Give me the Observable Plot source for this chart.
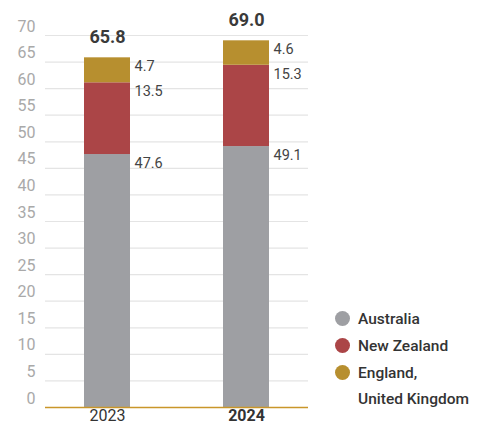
<!DOCTYPE html>
<html>
<head>
<meta charset="utf-8">
<script src="https://cdn.jsdelivr.net/npm/d3@7"></script>
<script src="https://cdn.jsdelivr.net/npm/@observablehq/plot@0.6"></script>
<style>
  html, body { margin: 0; padding: 0; background: #fff; }
  body { width: 480px; height: 424px; position: relative; overflow: hidden; font-family: Roboto, "Noto Sans", sans-serif; }
  #unit { position: absolute; left: 0; top: -14px; font-size: 15px; color: #444; white-space: nowrap; }
  #chart { position: absolute; left: 0; top: 0; }
  #legend { position: absolute; left: 335px; top: 305px; font-size: 15.5px; font-weight: 500; color: #333; }
  .row { display: flex; align-items: center; height: 27px; }
  .dot { width: 15px; height: 15px; border-radius: 50%; margin-right: 8px; flex: none; }
  .cont { padding-left: 23px; height: 27px; line-height: 27px; }
</style>
</head>
<body>
<div id="unit">(billion, $)</div>
<div id="chart"></div>
<div id="legend"></div>
<script>
const years = ["2023", "2024"];
const countries = ["Australia", "New Zealand", "England, United Kingdom"];
const australia = [47.6, 49.1];
const newZealand = [13.5, 15.3];
const england = [4.7, 4.6];
const totals = [65.8, 69.0];
const yTicks = [0, 5, 10, 15, 20, 25, 30, 35, 40, 45, 50, 55, 60, 65, 70];
const colors = ["#9e9fa3", "#ab4547", "#b78f2f"];

const series = [australia, newZealand, england];
const data = [];
years.forEach((yr, i) => {
  countries.forEach((c, j) => data.push({ year: yr, country: c, value: series[j][i] }));
});
const totalData = years.map((yr, i) => ({ year: yr, total: totals[i] }));

const bandwidth = 46;

const chart = Plot.plot({
  width: 480,
  height: 424,
  marginTop: 35,
  marginBottom: 17,
  marginLeft: 45,
  marginRight: 172,
  style: { fontFamily: "Roboto, 'Noto Sans', sans-serif", background: "#fff" },
  x: { domain: years, paddingInner: 0.67, paddingOuter: 0.28, label: null },
  y: { domain: [0, 70], label: null },
  color: { domain: countries, range: colors },
  marks: [
    Plot.gridY(yTicks, { stroke: "#e4e4e4", strokeOpacity: 1, strokeWidth: 1.2 }),
    Plot.axisY(yTicks, { tickSize: 0, tickPadding: 10, fontSize: 16, fill: "#a9a9a9", dy: -9, label: null }),
    Plot.barY(data, { x: "year", y: "value", fill: "country", order: null }),
    Plot.ruleY([0], { stroke: "#c9962a", strokeWidth: 1.5 }),
    Plot.text(data, Plot.stackY2({ x: "year", y: "value", z: "country", order: null, text: d => d.value.toFixed(1), textAnchor: "start", dx: bandwidth / 2 + 4, dy: 9, fontSize: 14.5, fill: "#444" })),
    Plot.text(totalData, { x: "year", y: "total", text: d => d.total.toFixed(1), dy: -21, fontSize: 18, fontWeight: "bold", fill: "#3a3a3a" }),
    Plot.axisX({ ticks: ["2023"], tickSize: 0, tickPadding: 2, fontSize: 16, fill: "#333", label: null }),
    Plot.axisX({ ticks: ["2024"], tickSize: 0, tickPadding: 2, fontSize: 16, fontWeight: "bold", fill: "#333", label: null })
  ]
});
document.getElementById("chart").appendChild(chart);

const legend = document.getElementById("legend");
const legendLines = [["Australia"], ["New Zealand"], ["England,", "United Kingdom"]];
legendLines.forEach((lines, i) => {
  const row = document.createElement("div");
  row.className = "row";
  const dot = document.createElement("span");
  dot.className = "dot";
  dot.style.background = colors[i];
  row.appendChild(dot);
  const t = document.createElement("span");
  t.textContent = lines[0];
  row.appendChild(t);
  legend.appendChild(row);
  for (let k = 1; k < lines.length; k++) {
    const c = document.createElement("div");
    c.className = "cont";
    c.textContent = lines[k];
    legend.appendChild(c);
  }
});
</script>
</body>
</html>
